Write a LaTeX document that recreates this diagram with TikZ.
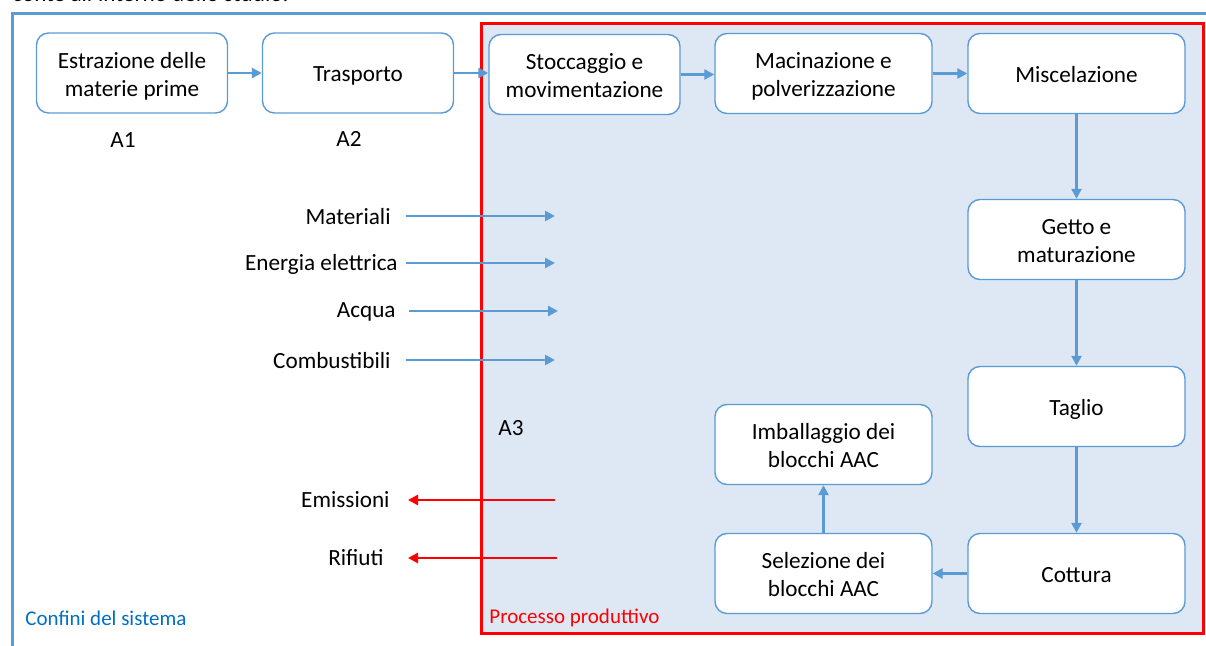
\documentclass[tikz,border=0pt]{standalone}
\usepackage{fontspec}
\setmainfont{Carlito}
\usepackage{tikz}
\usetikzlibrary{positioning,arrows.meta}

\definecolor{linea}{HTML}{5B9BD5}
\definecolor{sfondo}{HTML}{DEE8F5}
\definecolor{testoblu}{HTML}{0070C0}
\newcommand{\primariga}{\rule{0pt}{12.3pt}}
\newcommand{\ultimariga}{\rule[-3pt]{0pt}{3pt}}

\tikzset{
  fase/.style={draw=linea,line width=0.7pt,fill=white,rounded corners=6pt,
    minimum width=95.5pt,minimum height=40pt,align=center,inner sep=2pt,
    execute at begin node={\rule{0pt}{12pt}},execute at end node={\ultimariga}},
  faselarga/.style={fase,minimum width=108.5pt},
  flusso/.style={draw=linea,line width=1.4pt,-{Triangle[length=5pt,width=5pt]}},
  uscita/.style={draw=red,line width=1.4pt,-{Triangle[length=5pt,width=5pt]}},
  voce/.style={anchor=east,inner sep=0pt},
  nota/.style={anchor=west,inner sep=0pt,font=\fontsize{10.5}{12}\selectfont},
}

\begin{document}
\begin{tikzpicture}[x=0.5pt,y=-0.5pt,every node/.style={font=\fontsize{11.6}{14}\selectfont}]
    \useasboundingbox (0,0) rectangle (1206,646);
    % titolo tagliato in alto
    \begin{scope}
      \clip (0,0) rectangle (1206,646);
      \node[anchor=base west,inner sep=0pt] (titolo) at (12,2) {conte all'interno dello studio.};
    \end{scope}
    % confini
    \draw[linea,line width=1.5pt] (12,646) -- (12,14) -- (1206,14);
    \draw[red,line width=1.5pt,fill=sfondo] (481,24) rectangle (1203,634);
    % fasi
    \node[fase] (estrazione) at (132,73) {\primariga Estrazione delle\\materie prime\ultimariga};
    \node[fase] (trasporto) at (358,73) {Trasporto};
    \node[fase] (stoccaggio) at (584.5,74.5) {\primariga Stoccaggio e\\movimentazione\ultimariga};
    \node[faselarga] (macinazione) at (823.5,73.5) {\primariga Macinazione e\\polverizzazione\ultimariga};
    \node[faselarga] (miscelazione) at (1076.5,73.5) {Miscelazione};
    \node[faselarga] (getto) at (1076.5,239.5) {\primariga Getto e\\maturazione\ultimariga};
    \node[faselarga] (taglio) at (1076.5,406.5) {Taglio};
    \node[faselarga] (cottura) at (1076.5,573.5) {Cottura};
    \node[faselarga] (selezione) at (823.5,573.5) {\primariga Selezione dei\\blocchi AAC\ultimariga};
    \node[faselarga] (imballaggio) at (823.5,444.5) {\primariga Imballaggio dei\\blocchi AAC\ultimariga};
    \node (A1) at (123,140) {A1};
    \node (A2) at (349,139) {A2};
    \node (A3) at (511,428) {A3};
    % ingressi e uscite
    \node[voce] (materiali) at (391,217) {Materiali};
    \node[voce] (energia) at (398,264) {Energia elettrica};
    \node[voce] (acqua) at (396,312) {Acqua};
    \node[voce] (combustibili) at (391,361) {Combustibili};
    \node[voce] (emissioni) at (390,500) {Emissioni};
    \node[voce] (rifiuti) at (384,558) {Rifiuti};
    \coordinate (materialiB) at (555,216);
    \coordinate (energiaB) at (555,263);
    \coordinate (acquaB) at (558,311);
    \coordinate (combustibiliB) at (555,360);
    \coordinate (emissioniB) at (555,500);
    \coordinate (rifiutiB) at (557,558);
    \node[nota,text=testoblu] (confini) at (25,618) {Confini del sistema};
    \node[nota,text=red] (processo) at (489,618) {Processo produttivo};
    % frecce
    \draw[flusso] (estrazione) -- (trasporto);
    \draw[flusso] (trasporto.east) -- (trasporto.east -| stoccaggio.west);
    \draw[flusso] (stoccaggio.east) -- (stoccaggio.east -| macinazione.west);
    \draw[flusso] (macinazione) -- (miscelazione);
    \draw[flusso] (miscelazione) -- (getto);
    \draw[flusso] (getto) -- (taglio);
    \draw[flusso] (taglio) -- (cottura);
    \draw[flusso] (cottura) -- (selezione);
    \draw[flusso] (selezione) -- (imballaggio);
    \draw[flusso] ([xshift=8pt]materiali.east) |- (materialiB);
    \draw[flusso] ([xshift=4.5pt]energia.east) |- (energiaB);
    \draw[flusso] ([xshift=7pt]acqua.east) |- (acquaB);
    \draw[flusso] ([xshift=8pt]combustibili.east) |- (combustibiliB);
    \draw[uscita] (emissioniB) -- ([xshift=9pt]emissioni.east);
    \draw[uscita] (rifiutiB) -- ([xshift=12pt]rifiuti.east);
  \end{tikzpicture}
\end{document}
